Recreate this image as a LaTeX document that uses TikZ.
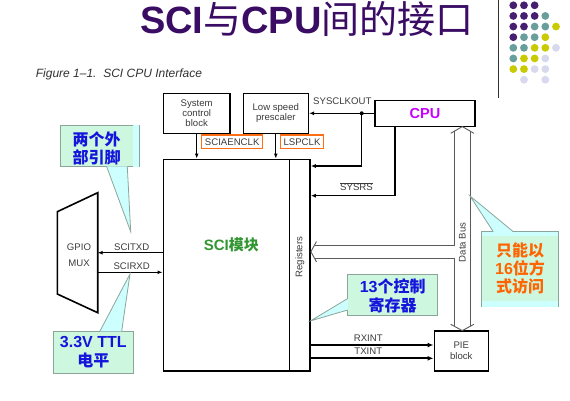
\documentclass[tikz,border=0pt]{standalone}
\usepackage{fontspec}
\setmainfont{Liberation Sans}
\newfontfamily\cjk{Noto Sans CJK SC}
\usetikzlibrary{arrows.meta,calc}
\definecolor{titlepurple}{RGB}{58,12,100}
\definecolor{labgray}{RGB}{60,60,60}
\definecolor{capgray}{RGB}{50,50,50}
\definecolor{cpumag}{RGB}{200,0,255}
\definecolor{scigreen}{RGB}{50,150,50}
\definecolor{olab}{RGB}{255,110,20}
\definecolor{mint}{RGB}{205,247,222}
\definecolor{cyanl}{RGB}{205,255,255}
\definecolor{cborder}{RGB}{140,165,155}
\definecolor{cblue}{RGB}{20,20,220}
\definecolor{corange}{RGB}{255,100,0}
\definecolor{busgray}{RGB}{90,90,90}
\definecolor{dP}{RGB}{72,30,112}
\definecolor{dT}{RGB}{104,158,156}
\definecolor{dY}{RGB}{202,202,0}
\definecolor{dL}{RGB}{216,216,238}
\tikzset{
  blk/.style={draw, line width=1.6pt, inner sep=0pt, fill=white},
  lab/.style={text=labgray, font=\fontsize{9.6}{10}\selectfont, inner sep=0pt},
  sig/.style={draw, line width=1.1pt, -{Latex[length=5pt,width=4pt]}},
  sigthick/.style={draw, line width=1.7pt, -{Latex[length=6pt,width=5pt]}},
  olabel/.style={draw=olab, line width=1.2pt, fill=white, inner sep=0pt, text=labgray, font=\fontsize{9.6}{10}\selectfont},
  cbox/.style={draw=cborder, fill=mint, line width=0.8pt},
  cptr/.style={fill=cyanl},
  cedge/.style={draw=cborder, line width=0.8pt},
  cjkb/.style={font=\cjk\bfseries\fontsize{16}{18}\selectfont, inner sep=0pt},
  bus/.style={draw=busgray, line width=0.9pt, line join=miter}
}
\begin{document}
\begin{tikzpicture}[x=1pt,y=-1pt]
\useasboundingbox (0,0) rectangle (570,400);
\fill[white] (0,0) rectangle (570,400);

% decoration
\draw[line width=1pt, black!80] (498,0) -- (498,98);
\foreach \c/\r/\col in {1/1/dP,2/1/dP,3/1/dP,
  1/2/dP,2/2/dP,3/2/dP,4/2/dT,
  1/3/dP,2/3/dP,3/3/dT,4/3/dT,5/3/dY,
  1/4/dP,2/4/dT,3/4/dT,4/4/dY,
  1/5/dT,2/5/dT,3/5/dY,4/5/dY,5/5/dL,
  1/6/dT,2/6/dY,3/6/dY,4/6/dL,
  1/7/dY,2/7/dY,3/7/dL,4/7/dL,
  2/8/dL,4/8/dL}
  \fill[\col] ({513.3+(\c-1)*10.67},{5.3+(\r-1)*10.63}) circle (3.9pt);

% title and caption
\node[anchor=base west, text=titlepurple, inner sep=0pt] (title) at (140,33.3)
  {{\bfseries\fontsize{38}{44}\selectfont SCI}{\cjk\fontsize{38}{44}\selectfont 与}{\bfseries\fontsize{38}{44}\selectfont CPU}{\cjk\fontsize{38}{44}\selectfont 间的接口}};
\node[anchor=west, text=capgray, inner sep=0pt, font=\itshape\fontsize{12}{14}\selectfont] (cap) at (35.7,74) {Figure 1–1.\ \ SCI CPU Interface};

% blocks
\node[blk, lab, minimum width=66.7pt, minimum height=40pt, align=center] (sysctl) at (196.7,113.3) {System\\control\\block};
\node[blk, lab, minimum width=65pt, minimum height=40pt, align=center] (lsp) at (275.8,113.3) {Low speed\\prescaler};
\node[blk, minimum width=100pt, minimum height=26pt, text=cpumag, font=\bfseries\fontsize{14.5}{16}\selectfont] (cpu) at (425,113.3) {CPU};
\node[blk, minimum width=146.7pt, minimum height=211.4pt] (sci) at (236.65,265) {};
\coordinate (regL) at (289.3,265);
\draw[line width=0.9pt] (regL |- sci.north) -- (regL |- sci.south);
\node[inner sep=0pt, text=scigreen] (scitext) at (231.3,245) {{\bfseries\fontsize{15}{17}\selectfont SCI}{\cjk\bfseries\fontsize{15}{17}\selectfont 模块}};
\node[lab, rotate=90] (regtext) at (300,257) {Registers};
\node[blk, lab, minimum width=54pt, minimum height=40pt, align=center, font=\fontsize{9.6}{11}\selectfont] (pie) at (461.3,351) {PIE\\block};

% GPIO MUX
\coordinate (gtl) at (57.3,211.7);
\coordinate (gtr) at (97.7,192.7);
\coordinate (gbr) at (97.7,312.7);
\coordinate (gbl) at (57.3,294);
\draw[line width=1.6pt, line join=miter] (gtl) -- (gtr) -- (gbr) -- (gbl) -- cycle;
\node[lab, align=center, font=\fontsize{9.6}{16}\selectfont] (gpiotext) at (79,255.3) {GPIO\\MUX};

% clock labels
\node[olabel, minimum width=61pt, minimum height=13.3pt] (sciaen) at (232.2,141.7) {SCIAENCLK};
\node[olabel, minimum width=42.6pt, minimum height=13.3pt] (lspclk) at (302,141.7) {LSPCLK};

% clock / reset connectors
\draw[sig] (sysctl.south) -- (sysctl.south |- sci.north);
\draw[sig] (lsp.south) -- (lsp.south |- sci.north);
\draw[sig] (cpu.west) -- (lsp.east);
\coordinate (dot) at (361.7,113.3);
\fill (dot) circle (2pt);
\coordinate (r1) at (310,166);
\draw[sig] (dot) |- (r1 -| sci.east);
\coordinate (c2) at (395,126.3);
\coordinate (r2) at (310,195.7);
\draw[sig] (c2 |- cpu.south) |- (r2 -| sci.east);
\node[lab] (lsysclk) at (342.3,100.7) {SYSCLKOUT};
\node[lab] (lsysrs) at (356.5,186.5) {$\overline{\mbox{SYSRS}}$};

% SCI pins
\coordinate (gx1) at (97.7,252.7);
\coordinate (gx2) at (97.7,272.3);
\draw[sig] (gx1 -| sci.west) -- (gx1);
\draw[sig] (gx2) -- (gx2 -| sci.west);
\node[lab] (ltxd) at (131.7,247.3) {SCITXD};
\node[lab] (lrxd) at (131.7,265.7) {SCIRXD};

% interrupts
\coordinate (p1) at (434.3,345);
\coordinate (p2) at (434.3,358.3);
\draw[sigthick] (p1 -| sci.east) -- (p1 -| pie.west);
\draw[sigthick] (p2 -| sci.east) -- (p2 -| pie.west);
\node[lab] (lrx) at (368.3,338.3) {RXINT};
\node[lab] (ltx) at (368.3,351.6) {TXINT};

% data bus (hollow double arrow)
\draw[bus] (450.7,133.3) -- (462.3,126.6) -- (473.9,133.3);
\draw[bus] (454,131.4) -- (454,245) -- (314.5,245);
\draw[bus] (316.5,241.5) -- (310.9,251.7) -- (316.5,261.9);
\draw[bus] (314.5,258.3) -- (454,258.3) -- (454,326.2);
\draw[bus] (470.7,131.5) -- (470.7,326.2);
\draw[bus] (450.7,324.3) -- (462.3,330.6) -- (473.9,324.3);
\node[lab, rotate=90] (busl) at (462.3,242.3) {Data Bus};

% callout A
\node[cbox, minimum width=78.6pt, minimum height=41.7pt, inner sep=0pt] (ca) at (100,145.85) {};
\fill[cyanl] ($(ca.north east)+(-6.6,0.4)$) rectangle ($(ca.south east)+(-0.4,-0.4)$);
\coordinate (ta) at (130.7,231.7);
\fill[cptr] (106.7,166.3) -- (ta) -- (127.3,166.3) -- cycle;
\draw[cedge] (106.7,166.7) -- (ta) -- (127.3,166.7);
\node[cjkb, text=cblue] (ta1) at (96.7,139.3) {两个外};
\node[cjkb, text=cblue] (ta2) at (96.7,157.7) {部引脚};

% callout B
\node[cbox, minimum width=80pt, minimum height=42.3pt, inner sep=0pt] (cb) at (93.3,352.15) {};
\coordinate (tb) at (130,274);
\fill[cptr] (100,331.4) -- (tb) -- (121.7,331.4) -- cycle;
\draw[cedge] (100,331) -- (tb) -- (121.7,331);
\node[inner sep=0pt, text=cblue, font=\bfseries\fontsize{16}{18}\selectfont] (tb1) at (93.3,342.3) {3.3V TTL};
\node[cjkb, text=cblue] (tb2) at (93.3,360.7) {电平};

% callout C
\node[cbox, minimum width=76.6pt, minimum height=75pt, inner sep=0pt] (cc) at (520,269.2) {};
\fill[cyanl] ($(cc.north west)+(0.4,0.4)$) rectangle ($(cc.north east)+(-0.4,5)$);
\fill[cyanl] ($(cc.south west)+(0.4,-6.6)$) rectangle ($(cc.south east)+(-0.4,-0.4)$);
\coordinate (tc) at (470,196);
\fill[cptr] (493.3,232.1) -- (tc) -- (513.3,232.1) -- cycle;
\draw[cedge] (493.3,231.7) -- (tc) -- (513.3,231.7);
\node[cjkb, text=corange] (tc1) at (520,250) {只能以};
\node[inner sep=0pt, text=corange] (tc2) at (520,268.3) {{\bfseries\fontsize{16}{18}\selectfont 16}{\cjk\bfseries\fontsize{16}{18}\selectfont 位方}};
\node[cjkb, text=corange] (tc3) at (520,286.7) {式访问};

% callout D
\node[cbox, minimum width=90pt, minimum height=41.7pt, inner sep=0pt] (cd) at (392.7,295) {};
\coordinate (td) at (310.7,320.8);
\fill[cptr] (348.1,298.5) -- (td) -- (348.1,310) -- cycle;
\draw[cedge] (347.7,298.5) -- (td) -- (347.7,310);
\node[inner sep=0pt, text=cblue] (td1) at (392.7,286) {{\bfseries\fontsize{16}{18}\selectfont 13}{\cjk\bfseries\fontsize{16}{18}\selectfont 个控制}};
\node[cjkb, text=cblue] (td2) at (392.7,305) {寄存器};
\end{tikzpicture}
\end{document}
